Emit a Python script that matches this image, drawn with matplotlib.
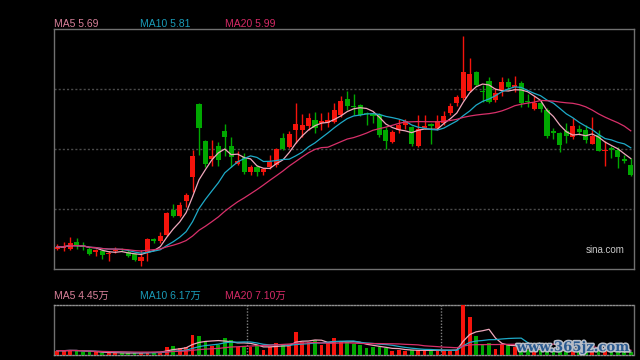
import numpy as np
import pandas as pd
import matplotlib
matplotlib.use('Agg')
import matplotlib.pyplot as plt
import matplotlib.patheffects as pe

# daily k-line data (price in yuan, volume in 万)
opens = [4.71, 4.72, 4.71, 4.78, 4.74, 4.71, 4.67, 4.68, 4.65, 4.68,
         4.70, 4.67, 4.65, 4.58, 4.67, 4.81, 4.79, 4.86, 5.13, 5.07,
         5.23, 5.49, 6.29, 5.88, 5.69, 5.83, 5.99, 5.83, 5.63, 5.71,
         5.54, 5.60, 5.54, 5.60, 5.62, 5.92, 5.82, 6.00, 6.00, 6.05,
         6.11, 6.08, 6.08, 6.09, 6.17, 6.34, 6.27, 6.28, 6.19, 6.18,
         6.17, 6.00, 5.87, 6.00, 6.06, 6.04, 5.83, 6.02, 6.07, 6.03,
         6.08, 6.19, 6.30, 6.35, 6.43, 6.63, 6.43, 6.54, 6.33, 6.44,
         6.53, 6.47, 6.52, 6.32, 6.23, 6.30, 6.22, 5.99, 5.97, 5.99,
         5.93, 6.01, 6.00, 5.85, 5.95, 5.77, 5.81, 5.79, 5.69, 5.62]
highs = [4.76, 4.78, 4.84, 4.83, 4.78, 4.73, 4.71, 4.71, 4.68, 4.73,
         4.72, 4.70, 4.66, 4.70, 4.83, 4.83, 4.89, 5.11, 5.20, 5.22,
         5.32, 5.79, 6.30, 5.89, 5.89, 5.87, 6.07, 5.93, 5.77, 5.75,
         5.62, 5.62, 5.59, 5.73, 5.81, 5.97, 5.99, 6.30, 6.18, 6.19,
         6.20, 6.19, 6.20, 6.30, 6.37, 6.43, 6.40, 6.29, 6.20, 6.19,
         6.19, 6.04, 6.00, 6.12, 6.12, 6.05, 6.17, 6.17, 6.08, 6.17,
         6.21, 6.30, 6.39, 7.03, 6.79, 6.65, 6.49, 6.58, 6.46, 6.58,
         6.57, 6.59, 6.54, 6.40, 6.37, 6.33, 6.24, 6.03, 5.98, 6.08,
         6.13, 6.06, 6.06, 6.14, 6.00, 5.88, 5.83, 5.82, 5.73, 5.70]
lows = [4.69, 4.68, 4.70, 4.71, 4.69, 4.64, 4.63, 4.60, 4.58, 4.66,
        4.68, 4.62, 4.58, 4.52, 4.58, 4.77, 4.77, 4.85, 5.05, 5.06,
        5.16, 5.33, 5.73, 5.60, 5.61, 5.61, 5.72, 5.60, 5.62, 5.52,
        5.51, 5.50, 5.51, 5.58, 5.60, 5.78, 5.81, 5.86, 5.93, 6.00,
        5.97, 6.00, 6.04, 6.08, 6.15, 6.22, 6.17, 6.16, 6.06, 6.08,
        5.93, 5.80, 5.86, 5.97, 6.01, 5.83, 5.82, 6.01, 5.85, 6.00,
        6.06, 6.17, 6.27, 6.33, 6.42, 6.48, 6.31, 6.30, 6.31, 6.37,
        6.44, 6.42, 6.25, 6.25, 6.22, 6.20, 5.92, 5.90, 5.76, 5.86,
        5.90, 5.95, 5.86, 5.85, 5.77, 5.61, 5.70, 5.59, 5.64, 5.50]
closes = [4.73, 4.73, 4.77, 4.74, 4.73, 4.65, 4.70, 4.64, 4.66, 4.70,
          4.69, 4.63, 4.59, 4.62, 4.81, 4.79, 4.85, 5.10, 5.07, 5.19,
          5.30, 5.72, 6.02, 5.63, 5.72, 5.68, 5.93, 5.71, 5.66, 5.54,
          5.60, 5.55, 5.58, 5.65, 5.80, 5.80, 5.96, 6.07, 6.06, 6.13,
          6.03, 6.10, 6.11, 6.22, 6.32, 6.27, 6.25, 6.17, 6.18, 6.16,
          5.95, 5.88, 5.98, 6.06, 6.10, 5.85, 6.01, 6.05, 6.05, 6.10,
          6.16, 6.27, 6.36, 6.64, 6.61, 6.49, 6.42, 6.31, 6.41, 6.53,
          6.47, 6.49, 6.30, 6.31, 6.30, 6.23, 5.94, 5.97, 5.84, 5.94,
          6.05, 5.98, 5.89, 5.94, 5.77, 5.78, 5.79, 5.71, 5.67, 5.51]
volumes = [6.4, 6.4, 7.3, 6.4, 4.0, 4.0, 4.0, 2.5, 4.0, 3.0,
           2.5, 2.5, 3.0, 4.0, 4.9, 4.0, 4.9, 12.3, 13.8, 10.4,
           11.8, 29.2, 27.4, 21.2, 13.8, 14.8, 25.6, 22.6, 12.3, 13.8,
           11.4, 14.8, 7.4, 12.3, 17.3, 14.8, 16.3, 33.6, 19.7, 18.8,
           22.2, 14.8, 17.8, 24.4, 20.0, 18.9, 16.7, 14.1, 9.6, 12.3,
           11.1, 9.6, 6.4, 7.8, 5.5, 7.4, 7.4, 6.4, 7.4, 6.4,
           7.4, 7.4, 7.4, 73.0, 55.5, 27.4, 15.5, 18.2, 8.6, 16.0,
           14.5, 11.2, 8.9, 7.4, 6.4, 7.4, 7.4, 5.9, 5.9, 5.9,
           8.5, 6.5, 8.2, 9.0, 7.3, 5.2, 4.1, 4.6, 3.8, 4.55]
ma_names = ['MA5', 'MA10', 'MA20']
ma_windows = [5, 10, 20]
price_ma_labels = ['5.69', '5.81', '5.99']
vol_ma_labels = ['4.45万', '6.17万', '7.10万']
month_breaks = [29.5, 59.5]

RED = '#f5140c'
GREEN = '#00a800'
ma_line_colors = ['#f0a8bc', '#1eaac8', '#d8306a']
ma_text_colors = ['#d9809a', '#1a9cb8', '#d62a66']
FONT = ['Liberation Sans', 'Noto Sans CJK SC', 'DejaVu Sans']

df = pd.DataFrame({'open': opens, 'high': highs, 'low': lows,
                   'close': closes, 'vol': volumes})
x = np.arange(len(df))
up = df['close'] >= df['open']
cols = np.where(up, RED, GREEN)

fig = plt.figure(figsize=(6.4, 3.6), dpi=100, facecolor='black')
ax = fig.add_axes([54/640, 1-269/360, 580/640, 240/360], facecolor='black')
axv = fig.add_axes([54/640, 1-355/360, 580/640, 50/360], facecolor='black')

# candles
ax.vlines(x, df['low'], df['high'], colors=cols, linewidth=1, zorder=2)
body_h = np.maximum((df['close'] - df['open']).abs(), 0.012)
body_b = np.minimum(df['open'], df['close'])
ax.bar(x, body_h, bottom=body_b, width=0.8, color=cols, linewidth=0, zorder=3)

for w, c in zip(ma_windows, ma_line_colors):
    ax.plot(x, df['close'].rolling(w, min_periods=1).mean(), color=c, lw=0.9, zorder=4)
    axv.plot(x, df['vol'].rolling(w, min_periods=1).mean(), color=c, lw=0.9, zorder=4)

ax.set_xlim(-0.5, len(df) - 0.5)
lo, hi = 4.488, 7.104
ax.set_ylim(lo, hi)
for k in range(1, 4):
    ax.axhline(lo + (hi - lo) * k / 4, color='#4a4a4a', lw=1,
               linestyle=(0, (1.5, 1.5)), zorder=1)
ax.set_xticks([])
ax.set_yticks([])
for s in ax.spines.values():
    s.set_color('#707070')
    s.set_linewidth(1)

# volume
axv.bar(x, df['vol'], width=0.6, color=cols, linewidth=0, zorder=3)
axv.set_xlim(-0.5, len(df) - 0.5)
axv.set_ylim(0, df['vol'].max() * 1.01)
for m in month_breaks:
    axv.axvline(m, color='#808080', lw=1, linestyle=(0, (1, 1.2)), zorder=1)
axv.set_xticks([])
axv.set_yticks([])
for side in ['top', 'bottom']:
    axv.spines[side].set_linestyle((0, (1, 1.2)))
    axv.spines[side].set_color('#909090')
for side in ['left', 'right']:
    axv.spines[side].set_color('#707070')
for s in axv.spines.values():
    s.set_linewidth(1)

# MA captions
xpos = [0.0, 0.148, 0.295]
for i in range(3):
    ax.text(xpos[i], 1 + 2/240, ma_names[i] + ' ' + price_ma_labels[i],
            transform=ax.transAxes, color=ma_text_colors[i], fontsize=7.5,
            family=FONT, va='baseline', ha='left')
    axv.text(xpos[i], 1 + 6/50, ma_names[i] + ' ' + vol_ma_labels[i],
             transform=axv.transAxes, color=ma_text_colors[i], fontsize=7.5,
             family=FONT, va='baseline', ha='left')

ax.text(0.983, 0.066, 'sina.com', transform=ax.transAxes, color='#c8c8c8',
        fontsize=7, family=FONT, ha='right', va='baseline')

wm = fig.text(573/640, 1 - 351/360, 'www.365jz.com', color='#2a5a90',
              fontsize=9.5, fontweight='bold', family='DejaVu Serif',
              ha='center', va='baseline', zorder=10)
wm.set_path_effects([pe.withStroke(linewidth=2.2, foreground='#b8bec8')])

fig.savefig('out.png', dpi=100, facecolor='black')
